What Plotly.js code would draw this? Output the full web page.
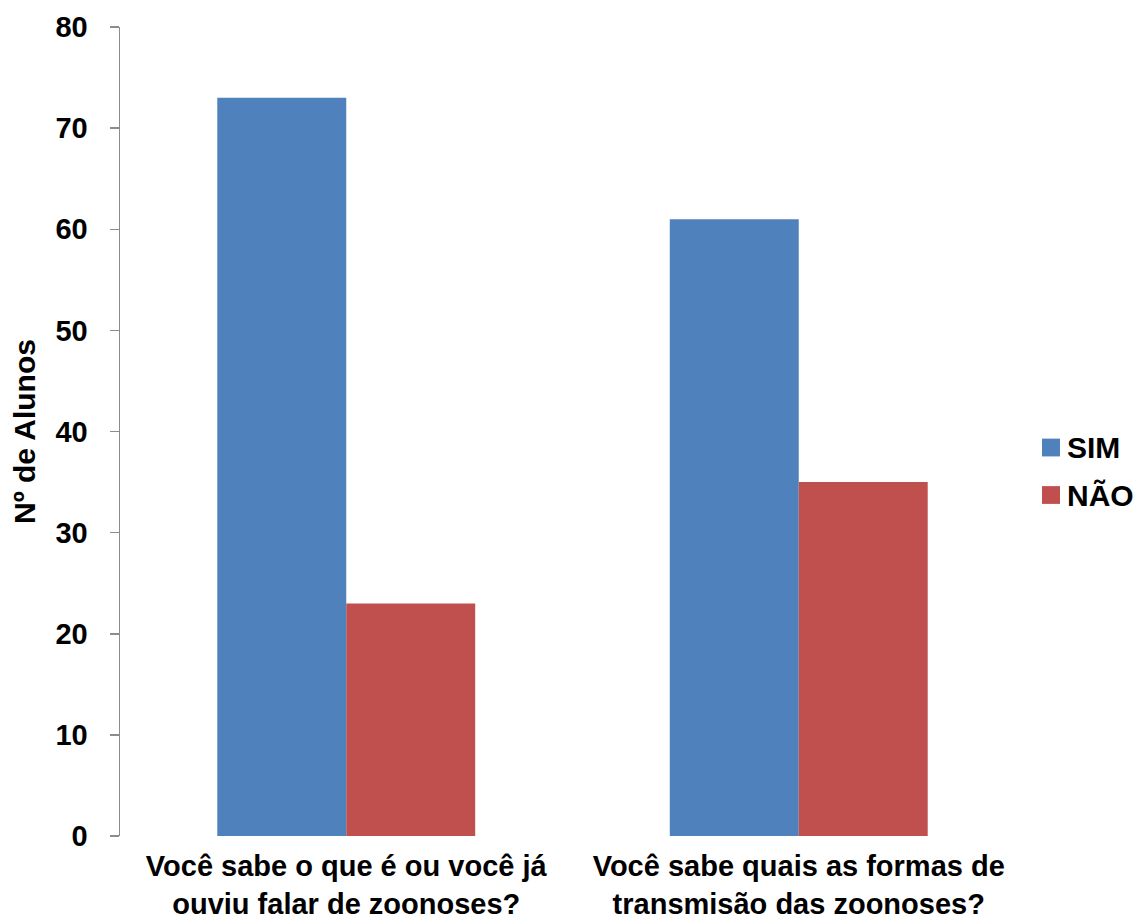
<!DOCTYPE html>
<html>
<head>
<meta charset="utf-8">
<script src="https://cdn.plot.ly/plotly-3.0.1.min.js"></script>
<style>
  html, body { margin: 0; padding: 0; background: #ffffff; }
  #chart { width: 1142px; height: 918px; }
</style>
</head>
<body>
<div id="chart"></div>
<script>
// Survey questions (x categories) and answer counts per group
const questions = [
  "Você sabe o que é ou você já<br>ouviu falar de zoonoses?",
  "Você sabe quais as formas de<br>transmisão das zoonoses?"
];
const seriesNames = ["SIM", "NÃO"];
const simValues = [73, 61];
const naoValues = [23, 35];
const seriesColors = ["#4F81BD", "#C0504D"];
const yTicks = [0, 10, 20, 30, 40, 50, 60, 70, 80];

const FONT = "Liberation Sans, Arial, sans-serif";

const traces = [simValues, naoValues].map((vals, i) => ({
  type: "bar",
  name: seriesNames[i],
  x: questions,
  y: vals,
  marker: { color: seriesColors[i], line: { width: 0 } },
  showlegend: false,
  hoverinfo: "x+y+name"
}));

// Legend drawn as colored squares plus labels to the right of the plot
const legendShapes = [];
const legendLabels = [];
seriesNames.forEach((name, i) => {
  const yc = 0.4802 - i * 0.0587;
  legendShapes.push({
    type: "rect", xref: "paper", yref: "paper",
    x0: 1.0188, x1: 1.0387, y0: yc - 0.011, y1: yc + 0.011,
    fillcolor: seriesColors[i], line: { width: 0 }
  });
  legendLabels.push({
    xref: "paper", yref: "paper", x: 1.0445, y: yc,
    xanchor: "left", yanchor: "middle", showarrow: false,
    text: "<b>" + name + "</b>",
    font: { family: FONT, size: 30, color: "#000000" }
  });
});

const layout = {
  width: 1142,
  height: 918,
  margin: { l: 120, r: 117, t: 27, b: 82 },
  paper_bgcolor: "#ffffff",
  plot_bgcolor: "#ffffff",
  bargap: 0.43,
  bargroupgap: 0,
  barmode: "group",
  font: { family: FONT, size: 29, color: "#000000" },
  xaxis: {
    type: "category",
    showline: false,
    showgrid: false,
    ticks: "",
    ticklabelstandoff: 10,
    tickfont: { family: FONT, size: 29, color: "#000000", weight: "bold" },
    zeroline: false
  },
  yaxis: {
    range: [0, 80],
    tickvals: yTicks,
    ticktext: yTicks.map(String),
    showgrid: false,
    zeroline: false,
    showline: true,
    linecolor: "#8c8c8c",
    linewidth: 1.5,
    ticks: "outside",
    ticklen: 9,
    tickwidth: 1.5,
    tickcolor: "#8c8c8c",
    ticklabelstandoff: 16,
    tickfont: { family: FONT, size: 29, color: "#000000", weight: "bold" },
    title: {
      text: "Nº de Alunos",
      font: { family: FONT, size: 30, color: "#000000", weight: "bold" },
      standoff: 11
    }
  },
  shapes: legendShapes,
  annotations: legendLabels,
  showlegend: false
};

Plotly.newPlot("chart", traces, layout, { displayModeBar: false, staticPlot: true });
</script>
</body>
</html>
